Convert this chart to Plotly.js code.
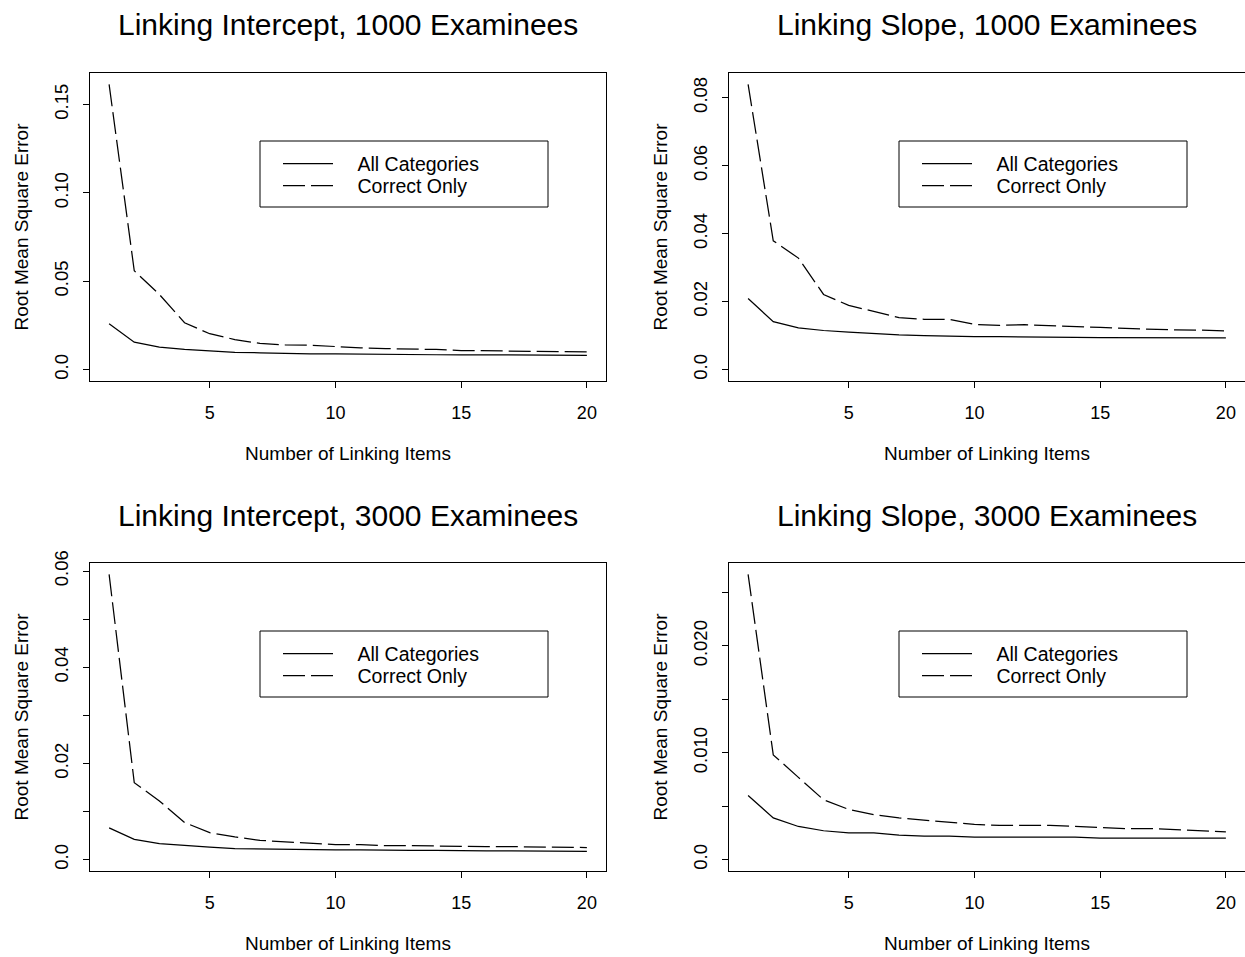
<!DOCTYPE html>
<html>
<head>
<meta charset="utf-8">
<script src="https://cdn.plot.ly/plotly-3.0.1.min.js"></script>
<style>
  html, body { margin: 0; padding: 0; background: #ffffff; }
  #chart { width: 1245px; height: 957px; }
</style>
</head>
<body>
<div id="chart"></div>
<script>
// ---------------- data ----------------
const items = [1, 2, 3, 4, 5, 6, 7, 8, 9, 10, 11, 12, 13, 14, 15, 16, 17, 18, 19, 20];
const seriesNames = ["All Categories", "Correct Only"];
const panelTitles = [
  "Linking Intercept, 1000 Examinees",
  "Linking Slope, 1000 Examinees",
  "Linking Intercept, 3000 Examinees",
  "Linking Slope, 3000 Examinees"
];
const xAxisTitle = "Number of Linking Items";
const yAxisTitle = "Root Mean Square Error";

const intercept1000All = [0.0259, 0.0155, 0.0127, 0.0114, 0.0106, 0.0098, 0.0095, 0.0091, 0.0089, 0.0089,
                          0.0087, 0.0086, 0.0085, 0.0084, 0.0084, 0.0083, 0.0083, 0.0082, 0.0082, 0.0081];
const intercept1000Correct = [0.1614, 0.0559, 0.0425, 0.0265, 0.0203, 0.0170, 0.0148, 0.0140, 0.0138, 0.0129,
                              0.0123, 0.0119, 0.0117, 0.0114, 0.0108, 0.0106, 0.0106, 0.0106, 0.0104, 0.0100];

const slope1000All = [0.0209, 0.0141, 0.0123, 0.0115, 0.0110, 0.0105, 0.0102, 0.0100, 0.0098, 0.0097,
                      0.0097, 0.0097, 0.0097, 0.0095, 0.0094, 0.0094, 0.0094, 0.0094, 0.0093, 0.0093];
const slope1000Correct = [0.0839, 0.0379, 0.0328, 0.0221, 0.0189, 0.0172, 0.0153, 0.0148, 0.0148, 0.0133,
                          0.0130, 0.0132, 0.0130, 0.0126, 0.0124, 0.0121, 0.0118, 0.0117, 0.0116, 0.0114];

const intercept3000All = [0.0066, 0.0042, 0.0033, 0.0029, 0.0026, 0.0023, 0.0022, 0.0022, 0.0021, 0.0020,
                          0.0020, 0.0019, 0.0019, 0.0019, 0.0018, 0.0018, 0.0018, 0.0018, 0.0017, 0.0017];
const intercept3000Correct = [0.0593, 0.0160, 0.0122, 0.0077, 0.0056, 0.0047, 0.0040, 0.0037, 0.0035, 0.0031,
                              0.0031, 0.0029, 0.0029, 0.0028, 0.0027, 0.0027, 0.0027, 0.0026, 0.0025, 0.0025];

const slope3000All = [0.0060, 0.0039, 0.0031, 0.0027, 0.0025, 0.0025, 0.0023, 0.0022, 0.0022, 0.0021,
                      0.0021, 0.0021, 0.0021, 0.0021, 0.0020, 0.0020, 0.0020, 0.0020, 0.0020, 0.0020];
const slope3000Correct = [0.0267, 0.0098, 0.0077, 0.0056, 0.0047, 0.0042, 0.0039, 0.0037, 0.0035, 0.0033,
                          0.0032, 0.0032, 0.0032, 0.0031, 0.0030, 0.0029, 0.0029, 0.0028, 0.0027, 0.0026];

const xTickVals = [5, 10, 15, 20];
const xTickText = ["5", "10", "15", "20"];

const yTickVals1 = [0, 0.05, 0.10, 0.15];
const yTickText1 = ["0.0", "0.05", "0.10", "0.15"];
const yTickVals2 = [0, 0.02, 0.04, 0.06, 0.08];
const yTickText2 = ["0.0", "0.02", "0.04", "0.06", "0.08"];
const yTickVals3 = [0, 0.01, 0.02, 0.03, 0.04, 0.05, 0.06];
const yTickText3 = ["0.0", "", "0.02", "", "0.04", "", "0.06"];
const yTickVals4 = [0, 0.005, 0.010, 0.015, 0.020, 0.025];
const yTickText4 = ["0.0", "", "0.010", "", "0.020", ""];

// ---------------- layout geometry ----------------
const W = 1245, H = 957;
const FONT = "Liberation Sans, Arial, Helvetica, sans-serif";
const boxes = [
  { l: 90,  r: 606,  t: 73,  b: 381 },
  { l: 729, r: 1245, t: 73,  b: 381 },
  { l: 90,  r: 606,  t: 563, b: 871 },
  { l: 729, r: 1245, t: 563, b: 871 }
];
const panels = [
  { all: intercept1000All, cor: intercept1000Correct, tv: yTickVals1, tt: yTickText1 },
  { all: slope1000All,     cor: slope1000Correct,     tv: yTickVals2, tt: yTickText2 },
  { all: intercept3000All, cor: intercept3000Correct, tv: yTickVals3, tt: yTickText3 },
  { all: slope3000All,     cor: slope3000Correct,     tv: yTickVals4, tt: yTickText4 }
];

const traces = [];
const layout = {
  width: W, height: H,
  margin: { l: 0, r: 0, t: 0, b: 0 },
  paper_bgcolor: "#ffffff",
  plot_bgcolor: "#ffffff",
  font: { family: FONT, color: "#000000", size: 18 },
  showlegend: true,
  annotations: [],
  shapes: []
};

const xMin = items[0], xMax = items[items.length - 1];
const xPad = 0.04 * (xMax - xMin);
const legendTextGap = "\u2002\u2002";

panels.forEach((p, i) => {
  const n = i + 1;
  const box = boxes[i];
  const xa = n === 1 ? "xaxis" : "xaxis" + n;
  const ya = n === 1 ? "yaxis" : "yaxis" + n;
  const xr = n === 1 ? "x" : "x" + n;
  const yr = n === 1 ? "y" : "y" + n;
  const ymax = Math.max(...p.cor, ...p.all);

  const legA = "legend" + (i * 2 + 1 === 1 ? "" : (i * 2 + 1));
  const legC = "legend" + (i * 2 + 2);

  traces.push({
    type: "scatter", mode: "lines", x: items, y: p.all, name: legendTextGap + seriesNames[0],
    xaxis: xr, yaxis: yr, legend: legA,
    line: { color: "#000000", width: 1.25 }, hoverinfo: "x+y"
  });
  traces.push({
    type: "scatter", mode: "lines", x: items, y: p.cor, name: legendTextGap + seriesNames[1],
    xaxis: xr, yaxis: yr, legend: legC,
    line: { color: "#000000", width: 1.25, dash: "22px,6px" }, hoverinfo: "x+y"
  });

  layout[xa] = {
    domain: [box.l / W, Math.min(1, box.r / W)],
    anchor: yr,
    range: [xMin - xPad, xMax + xPad],
    tickmode: "array", tickvals: xTickVals, ticktext: xTickText,
    ticks: "outside", ticklen: 6, tickwidth: 1, tickcolor: "#000000",
    ticklabelstandoff: 9,
    showline: true, mirror: true, linecolor: "#000000", linewidth: 1,
    showgrid: false, zeroline: false,
    tickfont: { family: FONT, size: 18, color: "#000000" },
    title: { text: xAxisTitle, font: { family: FONT, size: 19, color: "#000000" }, standoff: 25 }
  };
  layout[ya] = {
    domain: [1 - box.b / H, 1 - box.t / H],
    anchor: xr,
    range: [-0.04 * ymax, 1.04 * ymax],
    tickmode: "array", tickvals: p.tv, ticktext: p.tt,
    tickangle: -90,
    ticks: "outside", ticklen: 6, tickwidth: 1, tickcolor: "#000000",
    ticklabelstandoff: 8,
    showline: true, mirror: true, linecolor: "#000000", linewidth: 1,
    showgrid: false, zeroline: false,
    tickfont: { family: FONT, size: 18.5, color: "#000000" },
    title: { text: yAxisTitle, font: { family: FONT, size: 19, color: "#000000" }, standoff: 16 }
  };

  // panel title
  layout.annotations.push({
    text: panelTitles[i], xref: "paper", yref: "paper",
    x: (box.l + box.r) / 2 / W, y: 1 - (box.t - 48) / H,
    xanchor: "center", yanchor: "middle", showarrow: false,
    font: { family: FONT, size: 30, color: "#000000" }
  });

  // legend frame
  layout.shapes.push({
    type: "rect", xref: "paper", yref: "paper",
    x0: (box.l + 170) / W, x1: (box.l + 458) / W,
    y0: 1 - (box.t + 134) / H, y1: 1 - (box.t + 68) / H,
    line: { color: "#000000", width: 1 }, fillcolor: "rgba(0,0,0,0)"
  });

  const legCommon = {
    xref: "paper", yref: "paper", xanchor: "left", yanchor: "middle",
    bgcolor: "rgba(0,0,0,0)", borderwidth: 0, itemwidth: 50,
    font: { family: FONT, size: 19.5, color: "#000000" },
    itemclick: false, itemdoubleclick: false
  };
  layout[legA] = Object.assign({}, legCommon, { x: (box.l + 188) / W, y: 1 - (box.t + 91) / H });
  layout[legC] = Object.assign({}, legCommon, { x: (box.l + 188) / W, y: 1 - (box.t + 113) / H });
});

Plotly.newPlot("chart", traces, layout, { displayModeBar: false, staticPlot: false });
</script>
</body>
</html>
